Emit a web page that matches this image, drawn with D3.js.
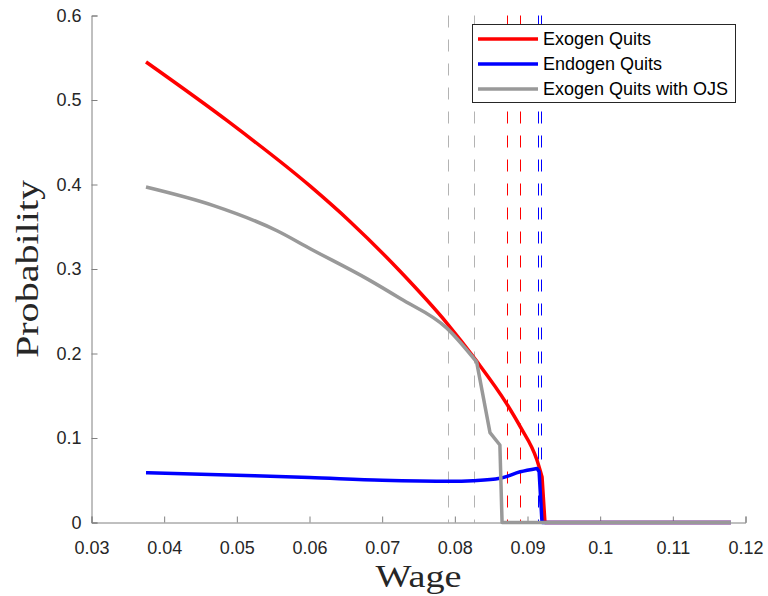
<!DOCTYPE html>
<html><head><meta charset="utf-8">
<script src="https://cdn.jsdelivr.net/npm/d3@7"></script>
<style>body{margin:0;background:#fff}</style>
</head><body>
<svg id="c" width="768" height="596"></svg>
<script>
const xTicks = [0.03,0.04,0.05,0.06,0.07,0.08,0.09,0.1,0.11,0.12];
const yTicks = [0,0.1,0.2,0.3,0.4,0.5,0.6];
const legendLabels = ["Exogen Quits","Endogen Quits","Exogen Quits with OJS"];
const seriesColors = ["#ff0000","#0000ff","#999999"];

const exogenWage = [0.0375,0.0489,0.0601,0.0656,0.0725,0.0789,0.0830,0.0871,0.0890,0.0913,0.0920,0.0924,0.118];
const exogenProb = [0.545,0.474,0.398,0.356,0.297,0.236,0.191,0.141,0.1134,0.074,0.054,0,0];

const endogenWage = [0.0375,0.05,0.06,0.07,0.0795,0.0825,0.0862,0.0890,0.0913,0.0916,0.09195,0.0920,0.118];
const endogenProb = [0.059,0.056,0.0533,0.0500,0.0487,0.0495,0.0523,0.060,0.064,0.060,0.007,0,0];

const ojsWage = [0.0375,0.0468,0.0556,0.0601,0.068,0.0725,0.0789,0.0830,0.08484,0.0862,0.0865,0.118];
const ojsProb = [0.397,0.375,0.345,0.324,0.288,0.265,0.230,0.190,0.1063,0.0917,0,0];

const grayCutoffs = [0.0790,0.0827];
const redCutoffs = [0.0872,0.0889];
const blueCutoffs = [0.0914,0.0918];

const svg = d3.select("#c");
const x = d3.scaleLinear().domain([0.03,0.12]).range([91.5,745.5]);
const y = d3.scaleLinear().domain([0,0.6]).range([522.5,15.5]);
const axisColor = "#808080", textColor = "#262626";
const sans = "Liberation Sans, Arial, Helvetica, sans-serif";

function vlines(vals, color){
  svg.append("g").selectAll("line").data(vals).enter().append("line")
    .attr("x1", d=>Math.round(x(d))+0.5).attr("x2", d=>Math.round(x(d))+0.5)
    .attr("y1", y(0.6)).attr("y2", y(0))
    .attr("stroke", color).attr("stroke-width",1).attr("stroke-dasharray","12,12");
}
vlines(grayCutoffs, "#b3b3b3");
vlines(redCutoffs, "#ff0000");
vlines(blueCutoffs, "#0000ff");

const xAxis = d3.axisBottom(x).tickValues(xTicks).tickSize(-6).tickPadding(19)
  .tickFormat(d=>d3.format("~g")(+d.toFixed(2)));
const gx = svg.append("g").attr("transform",`translate(0,${y(0)})`).call(xAxis);
const yAxis = d3.axisLeft(y).tickValues(yTicks).tickSize(-6).tickPadding(10)
  .tickFormat(d=>d===0?"0":d3.format("~g")(+d.toFixed(1)));
const gy = svg.append("g").attr("transform",`translate(${x(0.03)},0)`).call(yAxis);
[gx,gy].forEach(g=>{
  g.select(".domain").attr("stroke",axisColor);
  g.selectAll(".tick line").attr("stroke",axisColor);
  g.selectAll("text").attr("fill",textColor).style("font-family",sans).style("font-size","18px");
});

const smooth = d3.line().x(d=>x(d[0])).y(d=>y(d[1])).curve(d3.curveMonotoneX);
const straight = d3.line().x(d=>x(d[0])).y(d=>y(d[1]));
const series = [
  {w:exogenWage, p:exogenProb, cut:10},
  {w:endogenWage, p:endogenProb, cut:8},
  {w:ojsWage, p:ojsProb, cut:7}
];
series.forEach((s,i)=>{
  const pts = s.w.map((w,j)=>[w,s.p[j]]);
  const a = pts.slice(0,s.cut+1), b = pts.slice(s.cut);
  const d = smooth(a) + straight(b).replace(/^M/,"L");
  svg.append("path").attr("d",d)
    .attr("fill","none").attr("stroke",seriesColors[i]).attr("stroke-width",3.5).attr("stroke-linejoin","round");
});

svg.append("text").attr("x",x(0.075)).attr("y",587).attr("text-anchor","middle")
  .attr("textLength",86).attr("lengthAdjust","spacingAndGlyphs")
  .style("font-family","Liberation Serif, Times New Roman, serif").style("font-size","31px").attr("fill",textColor).text("Wage");
svg.append("text").attr("transform",`translate(38,${y(0.3)}) rotate(-90)`).attr("text-anchor","middle")
  .attr("textLength",178).attr("lengthAdjust","spacingAndGlyphs")
  .style("font-family","Liberation Serif, Times New Roman, serif").style("font-size","31px").attr("fill",textColor).text("Probability");

const lg = svg.append("g");
lg.append("rect").attr("x",472.5).attr("y",24.5).attr("width",263).attr("height",78)
  .attr("fill","#fff").attr("stroke","#262626").attr("stroke-width",1);
legendLabels.forEach((t,i)=>{
  const yy = 39 + i*25;
  lg.append("line").attr("x1",478).attr("x2",538).attr("y1",yy).attr("y2",yy)
    .attr("stroke",seriesColors[i]).attr("stroke-width",3.5);
  lg.append("text").attr("x",543).attr("y",yy).attr("dy","0.35em")
    .style("font-family",sans).style("font-size","18px").attr("fill","#000").text(t);
});
</script>
</body></html>
